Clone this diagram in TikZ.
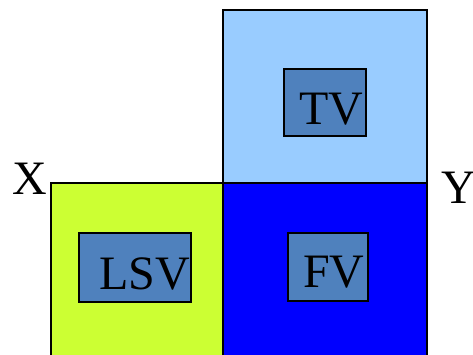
\documentclass[tikz,border=0pt]{standalone}
\usepackage{fontspec}
\setmainfont{Liberation Serif}
\definecolor{sideface}{RGB}{204,255,51}
\definecolor{topface}{RGB}{153,204,255}
\definecolor{frontface}{RGB}{0,0,255}
\definecolor{viewfill}{RGB}{79,129,189}
\tikzset{
  face/.style={draw=black,line width=1.6pt},
  viewbox/.style={draw=black,fill=viewfill,line width=1.6pt,inner sep=0pt},
  viewtext/.style={anchor=base west,inner sep=0pt,font=\fontsize{48}{48}\selectfont}
}
\begin{document}
\begin{tikzpicture}[x=1pt,y=-1pt]
\clip (0,0) rectangle (473,354);
\useasboundingbox (0,0) rectangle (473,354);
\filldraw[fill=topface,face] (223,10) rectangle (427,183);
\filldraw[fill=sideface,face] (51,183) rectangle (223,362);
\filldraw[fill=frontface,face] (223,183) rectangle (427,362);

\node[viewbox,minimum width=82pt,minimum height=67pt] (tv) at (325,102.5) {};
\node[viewbox,minimum width=112pt,minimum height=69pt] (lsv) at (135,267.5) {};
\node[viewbox,minimum width=80pt,minimum height=68pt] (fv) at (328,267) {};
\node[viewtext] (tvtext) at (299,124) {TV};
\node[viewtext] (lsvtext) at (99,289) {LSV};
\node[viewtext] (fvtext) at (303,287) {FV};

\node[viewtext] (xlabel) at (12,194) {X};
\node[viewtext] (ylabel) at (441,203) {Y};
\end{tikzpicture}
\end{document}
